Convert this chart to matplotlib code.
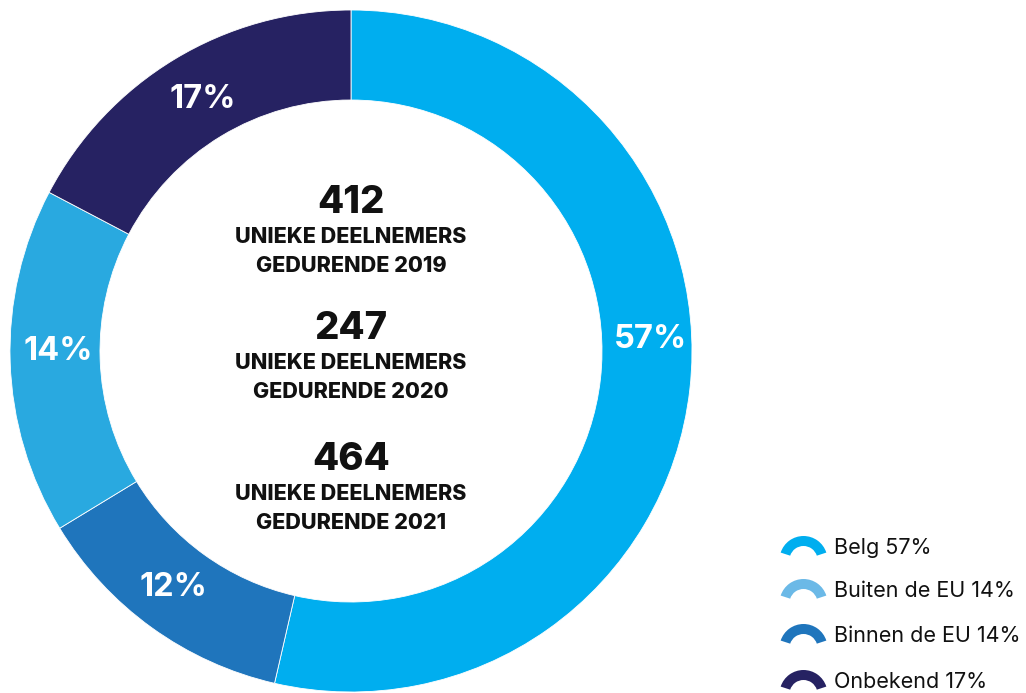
import matplotlib
matplotlib.use("Agg")
import matplotlib.pyplot as plt
from matplotlib.patches import Wedge

plt.rcParams['font.family'] = ['Inter', 'DejaVu Sans']

# Data (clockwise from 12 o'clock), arc shares as drawn in the picture
categories = ["Belg", "Binnen de EU", "Buiten de EU", "Onbekend"]
arc_shares = [53.6, 12.7, 16.4, 17.3]
slice_labels = ["57%", "12%", "14%", "17%"]
slice_colors = ["#00AEEF", "#1F75BC", "#29A9E0", "#262262"]

legend_labels = ["Belg 57%", "Buiten de EU 14%", "Binnen de EU 14%", "Onbekend 17%"]
legend_colors = ["#00AEEF", "#6BB9E7", "#1F75BC", "#262262"]

center_numbers = ["412", "247", "464"]
center_years = ["2019", "2020", "2021"]

W, H = 1026, 693
fig = plt.figure(figsize=(W / 100, H / 100), dpi=100)
ax = fig.add_axes([0, 0, 1, 1])

def py(y):
    return H - y

cx, cy, R = 351, py(351), 341
wedges, _ = ax.pie(arc_shares, colors=slice_colors, startangle=90, counterclock=False,
                   radius=R, center=(cx, cy),
                   wedgeprops=dict(width=90, edgecolor="white", linewidth=0.6))

# slice labels
label_pos = [(650, 340), (173, 588), (58, 352), (203, 100)]
for (x, y), t in zip(label_pos, slice_labels):
    ax.text(x, py(y), t, color="white", fontsize=23.5, fontweight="bold",
            ha="center", va="center")

# center text
num_y = [203, 329, 460]
for n, yr, y in zip(center_numbers, center_years, num_y):
    ax.text(cx, py(y), n, fontsize=27.5, fontweight="heavy", ha="center", va="center",
            color="#111111")
    ax.text(cx, py(y + 34), "UNIEKE DEELNEMERS", fontsize=15.5, fontweight="heavy",
            ha="center", va="center", color="#111111")
    ax.text(cx, py(y + 63), "GEDURENDE " + yr, fontsize=15.5, fontweight="heavy",
            ha="center", va="center", color="#111111")

# legend
leg_y = [548, 591, 636, 682]
for lab, col, y in zip(legend_labels, legend_colors, leg_y):
    ax.add_patch(Wedge((803.5, py(y + 12)), 24, 18, 162, width=10,
                       facecolor=col, edgecolor="none"))
    ax.text(834, py(y), lab, fontsize=15.5, ha="left", va="center", color="#111111")

ax.set_xlim(0, W)
ax.set_ylim(0, H)
ax.set_aspect("auto")
ax.axis("off")

fig.savefig("out.png", dpi=100)
